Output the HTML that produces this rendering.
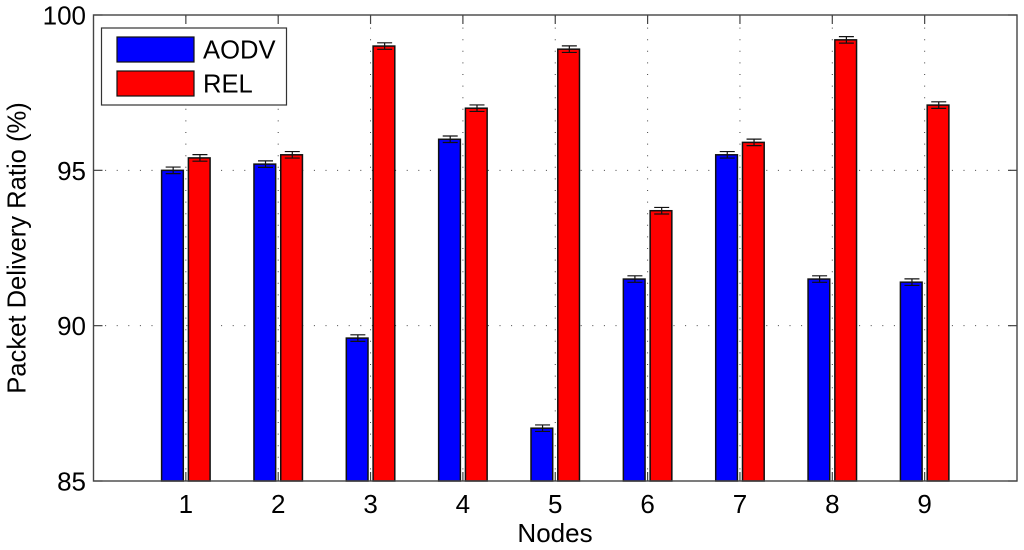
<!DOCTYPE html>
<html>
<head>
<meta charset="utf-8">
<style>
html,body{margin:0;padding:0;background:#fff;width:1024px;height:550px;overflow:hidden}
svg{display:block;font-family:"Liberation Sans",Arial,sans-serif}
</style>
</head>
<body>
<svg id="chart" width="1024" height="550" viewBox="0 0 1024 550" xmlns="http://www.w3.org/2000/svg">
<rect x="0" y="0" width="1024" height="550" fill="#fff"></rect>
<g id="grid"></g>
<g id="bars"></g>
<g id="axes"></g>
<text x="555" y="542" font-size="26" text-anchor="middle" fill="#000">Nodes</text>
<text transform="translate(25.5 248) rotate(-90)" font-size="25.6" text-anchor="middle" fill="#000">Packet Delivery Ratio (%)</text>
<g>
<rect x="101.5" y="28" width="185" height="77" fill="#fff" stroke="#333" stroke-width="1.2"></rect>
<rect x="117" y="37" width="77" height="25" fill="#0000ff" stroke="#111" stroke-width="1.2"></rect>
<rect x="117" y="71" width="77" height="25" fill="#ff0000" stroke="#111" stroke-width="1.2"></rect>
<text x="203" y="58.5" font-size="25.6" fill="#000">AODV</text>
<text x="203" y="92.7" font-size="25.6" fill="#000">REL</text>
</g>
</svg>
<script>
const categories = [1, 2, 3, 4, 5, 6, 7, 8, 9];
const aodvValues = [95.0, 95.2, 89.6, 96.0, 86.7, 91.5, 95.5, 91.5, 91.4];
const relValues = [95.4, 95.5, 99.0, 97.0, 98.9, 93.7, 95.9, 99.2, 97.1];
const errorMargin = [0.105];
const yTickLabels = [85, 90, 95, 100];

const NS = 'http://www.w3.org/2000/svg';
const plotLeft = 93.5, plotRight = 1017, plotTop = 15, plotBottom = 481;
const xMin = 0, xMax = 10, yMin = 85, yMax = 100;
function xScale(v) { return plotLeft + (v - xMin) / (xMax - xMin) * (plotRight - plotLeft); }
function yScale(v) { return plotBottom - (v - yMin) / (yMax - yMin) * (plotBottom - plotTop); }
function make(tag, attrs, parent) {
  const el = document.createElementNS(NS, tag);
  for (const k in attrs) el.setAttribute(k, attrs[k]);
  parent.appendChild(el);
  return el;
}
const gridG = document.getElementById('grid');
const barsG = document.getElementById('bars');
const axesG = document.getElementById('axes');
const dots = { stroke: '#444', 'stroke-width': 1, 'stroke-dasharray': '1 10.6' };

categories.forEach(function (c) {
  const x = xScale(c);
  const line = make('line', Object.assign({ x1: x, x2: x, y1: plotBottom, y2: plotTop }, dots), gridG);
  
  
});
yTickLabels.forEach(function (t) {
  if (t === yMin || t === yMax) return;
  const y = yScale(t);
  const line = make('line', Object.assign({ x1: plotLeft, x2: plotRight, y1: y, y2: y }, dots), gridG);
  
  
});

function drawBar(c, v, offset, color, label) {
  const barW = 0.235;
  const cx = xScale(c + offset) + 0.7;
  const left = xScale(c + offset - barW / 2);
  const right = xScale(c + offset + barW / 2);
  const rect = make('rect', { x: left, y: yScale(v), width: right - left, height: plotBottom - yScale(v), fill: color, stroke: '#111', 'stroke-width': 1.5 }, barsG);
  
  
  const hi = yScale(v + errorMargin[0]), lo = yScale(v - errorMargin[0]);
  const capHalf = 7.5;
  const err = make('path', {
    d: 'M' + cx + ' ' + hi + 'V' + lo + 'M' + (cx - capHalf) + ' ' + hi + 'H' + (cx + capHalf) + 'M' + (cx - capHalf) + ' ' + lo + 'H' + (cx + capHalf),
    fill: 'none', stroke: '#111', 'stroke-width': 1.2
  }, barsG);
  
  
}
categories.forEach(function (c, i) {
  drawBar(c, aodvValues[i], -0.145, '#0000ff', 'aodv');
  drawBar(c, relValues[i], 0.145, '#ff0000', 'rel');
});

const frame = make('rect', { x: plotLeft, y: plotTop, width: plotRight - plotLeft, height: plotBottom - plotTop, fill: 'none', stroke: '#444', 'stroke-width': 1.4 }, axesG);



categories.forEach(function (c) {
  const x = xScale(c);
  const t1 = make('line', { x1: x, x2: x, y1: plotBottom, y2: plotBottom - 9, stroke: '#444', 'stroke-width': 1.2 }, axesG);
  
  
  const t2 = make('line', { x1: x, x2: x, y1: plotTop, y2: plotTop + 9, stroke: '#444', 'stroke-width': 1.2 }, axesG);
  
  
  const label = make('text', { x: x, y: 513, 'font-size': 26, 'text-anchor': 'middle', fill: '#000' }, axesG);
  label.textContent = String(c);
  
  
});
yTickLabels.forEach(function (t) {
  const y = yScale(t);
  const t1 = make('line', { x1: plotLeft, x2: plotLeft + 9, y1: y, y2: y, stroke: '#444', 'stroke-width': 1.2 }, axesG);
  
  
  const t2 = make('line', { x1: plotRight, x2: plotRight - 9, y1: y, y2: y, stroke: '#444', 'stroke-width': 1.2 }, axesG);
  
  
  const label = make('text', { x: 86, y: y + 9.5, 'font-size': 26, 'text-anchor': 'end', fill: '#000' }, axesG);
  label.textContent = String(t);
  
  
});
</script>
</body>
</html>
